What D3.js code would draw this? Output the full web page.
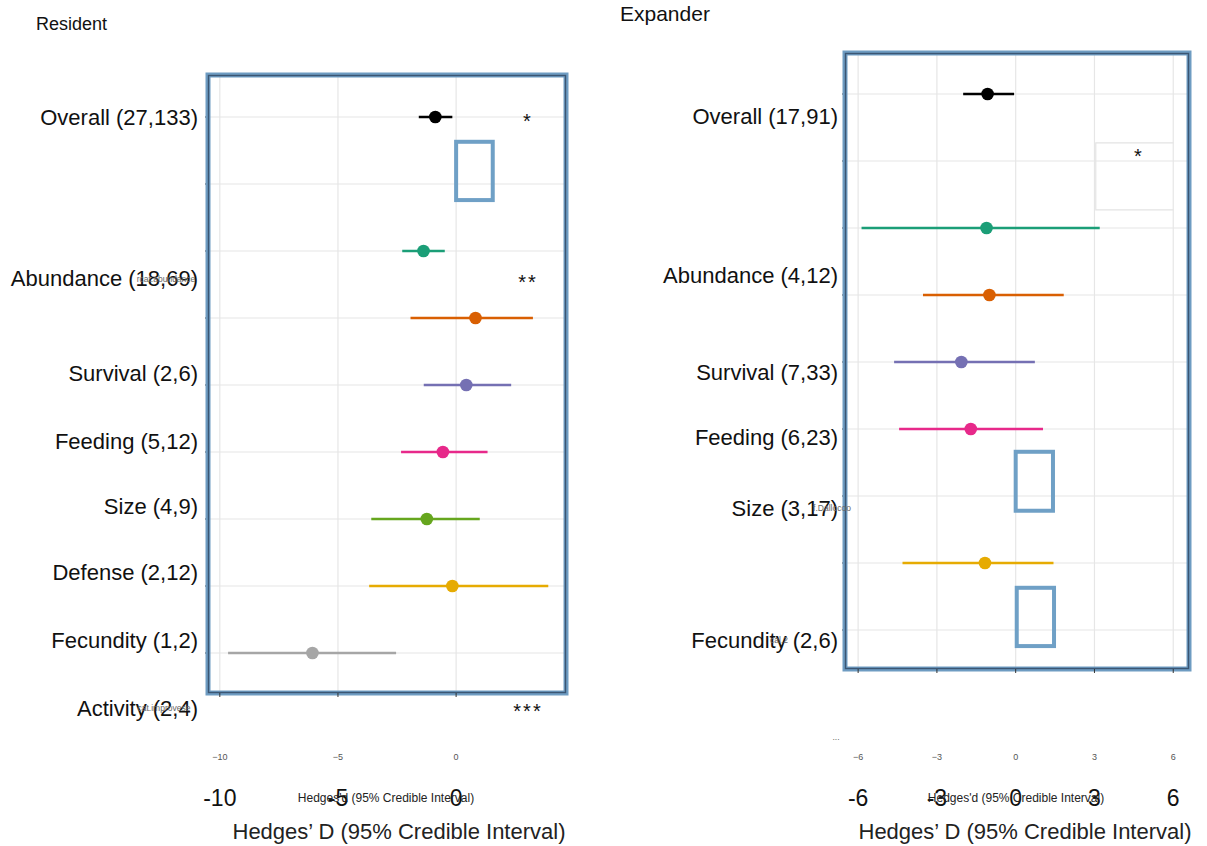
<!DOCTYPE html>
<html>
<head>
<meta charset="utf-8">
<script src="https://cdn.jsdelivr.net/npm/d3@7/dist/d3.min.js"></script>
<style>
  body { margin: 0; background: #fff; }
  svg { display: block; font-family: "Liberation Sans", Arial, sans-serif; }
</style>
</head>
<body>
<svg id="chart" width="1207" height="846"></svg>
<script>
// ---- Resident panel data (effect sizes, 95% CrI) ----
const residentRows   = [0, 2, 3, 4, 5, 6, 7, 8];
const residentMean   = [-0.88, -1.38, 0.82, 0.43, -0.56, -1.24, -0.16, -6.08];
const residentLow    = [-1.58, -2.28, -1.93, -1.37, -2.33, -3.59, -3.68, -9.65];
const residentHigh   = [-0.16, -0.48, 3.25, 2.33, 1.33, 1.00, 3.90, -2.54];
const residentColors = ["#000000", "#1b9e77", "#d95f02", "#7570b3", "#e7298a", "#66a61e", "#e6ab02", "#a6a6a6"];
const residentLabels = ["Overall (27,133)", "Abundance (18,69)", "Survival (2,6)", "Feeding (5,12)",
                        "Size (4,9)", "Defense (2,12)", "Fecundity (1,2)", "Activity (2,4)"];
const residentLabelRows = [0, 2.4, 3.82, 4.84, 5.81, 6.79, 7.81, 8.82];
const residentTicks  = [-10, -5, 0];
const residentStars  = ["*", "**", "***"];
const residentStarRows = [0.02, 2.42, 8.82];

// ---- Expander panel data ----
const expanderRows   = [0, 2, 3, 4, 5, 7];
const expanderMean   = [-1.07, -1.11, -1.00, -2.07, -1.71, -1.17];
const expanderLow    = [-2.00, -5.87, -3.53, -4.63, -4.44, -4.31];
const expanderHigh   = [-0.06, 3.20, 1.83, 0.73, 1.04, 1.44];
const expanderColors = ["#000000", "#1b9e77", "#d95f02", "#7570b3", "#e7298a", "#e6ab02"];
const expanderLabels = ["Overall (17,91)", "Abundance (4,12)", "Survival (7,33)", "Feeding (6,23)",
                        "Size (3,17)", "Fecundity (2,6)"];
const expanderLabelRows = [0.33, 2.7, 4.15, 5.13, 6.18, 8.15];
const expanderTicks  = [-6, -3, 0, 3, 6];
const expanderStars  = ["*"];
const expanderStarRows = [0.88];

const rowCount = 9;
const svg = d3.select("#chart");

function drawPanel(cfg) {
  const x = d3.scaleLinear().domain(cfg.xDomain).range([cfg.left, cfg.right]);
  const y = d3.scaleLinear().domain([0, rowCount - 1]).range(cfg.yRange);
  const g = svg.append("g");

  // grid
  g.selectAll(".vgrid").data(cfg.ticks).join("line")
    .attr("x1", d => x(d)).attr("x2", d => x(d))
    .attr("y1", cfg.top).attr("y2", cfg.bottom)
    .attr("stroke", "#e6e6e6").attr("stroke-width", 1.2);
  g.selectAll(".hgrid").data(d3.range(rowCount)).join("line")
    .attr("x1", cfg.left).attr("x2", cfg.right)
    .attr("y1", d => y(d)).attr("y2", d => y(d))
    .attr("stroke", "#e6e6e6").attr("stroke-width", 1.2);

  // small row ticks on the left edge
  g.selectAll(".rtick").data(d3.range(rowCount)).join("line")
    .attr("x1", cfg.left - 3).attr("x2", cfg.left)
    .attr("y1", d => y(d)).attr("y2", d => y(d))
    .attr("stroke", "#333").attr("stroke-width", 1);

  // outlined boxes
  cfg.boxes.forEach(b => {
    g.append("rect")
      .attr("x", x(b.x0)).attr("y", y(b.r0))
      .attr("width", x(b.x1) - x(b.x0)).attr("height", y(b.r1) - y(b.r0))
      .attr("fill", "none").attr("stroke", "#6fa0c6").attr("stroke-width", 4);
  });

  // intervals and points
  const data = cfg.rows.map((r, i) => ({ r, m: cfg.mean[i], lo: cfg.low[i], hi: cfg.high[i], c: cfg.colors[i] }));
  g.selectAll(".ci").data(data).join("line")
    .attr("x1", d => x(d.lo)).attr("x2", d => x(d.hi))
    .attr("y1", d => y(d.r)).attr("y2", d => y(d.r))
    .attr("stroke", d => d.c).attr("stroke-width", 2.4);
  g.selectAll(".pt").data(data).join("circle")
    .attr("cx", d => x(d.m)).attr("cy", d => y(d.r)).attr("r", 6.3)
    .attr("fill", d => d.c);

  // panel frame: light blue band with dark core
  g.append("rect")
    .attr("x", cfg.left).attr("y", cfg.top)
    .attr("width", cfg.right - cfg.left).attr("height", cfg.bottom - cfg.top)
    .attr("fill", "none").attr("stroke", "#6e9cc2").attr("stroke-width", 5);
  g.append("rect")
    .attr("x", cfg.left + 0.5).attr("y", cfg.top + 0.5)
    .attr("width", cfg.right - cfg.left - 1).attr("height", cfg.bottom - cfg.top - 1)
    .attr("fill", "none").attr("stroke", "#3b5673").attr("stroke-width", 1.4);

  // bottom tick marks
  g.selectAll(".btick").data(cfg.ticks).join("line")
    .attr("x1", d => x(d)).attr("x2", d => x(d))
    .attr("y1", cfg.bottom).attr("y2", cfg.bottom + 4)
    .attr("stroke", "#333").attr("stroke-width", 1);

  // category labels
  g.selectAll(".lab").data(cfg.labels).join("text")
    .attr("x", cfg.labelX).attr("y", (d, i) => y(cfg.labelRows[i]))
    .attr("dy", "0.35em").attr("text-anchor", "end")
    .attr("font-size", 22).attr("fill", "#111").text(d => d);

  // tiny overlaid labels
  cfg.tiny.forEach(t => {
    g.append("text").attr("x", t.x).attr("y", y(t.r)).attr("dy", "0.35em")
      .attr("font-size", 8.5).attr("fill", "#666").attr("text-anchor", "middle").text(t.s);
  });

  // significance stars
  g.selectAll(".star").data(cfg.stars).join("text")
    .attr("x", cfg.starX).attr("y", (d, i) => y(cfg.starRows[i]) + 10)
    .attr("text-anchor", "middle").attr("font-size", 20).attr("fill", "#111")
    .attr("letter-spacing", 2).text(d => d);

  // small tick labels
  g.selectAll(".stl").data(cfg.ticks).join("text")
    .attr("x", d => x(d)).attr("y", 760)
    .attr("text-anchor", "middle").attr("font-size", 9).attr("fill", "#555")
    .text(d => d < 0 ? "\u2212" + Math.abs(d) : d);
  // large tick labels
  g.selectAll(".ltl").data(cfg.ticks).join("text")
    .attr("x", d => x(d)).attr("y", 806)
    .attr("text-anchor", "middle").attr("font-size", 23).attr("fill", "#111")
    .text(d => d);
  // small axis title
  g.append("text").attr("x", cfg.smallTitleX).attr("y", 802)
    .attr("text-anchor", "middle").attr("font-size", 12).attr("fill", "#222")
    .text("Hedges'd (95% Credible Interval)");
  // large axis title
  g.append("text").attr("x", cfg.bigTitleX).attr("y", 839)
    .attr("text-anchor", "middle").attr("font-size", 22).attr("fill", "#222")
    .text("Hedges\u2019 D (95% Credible Interval)");

  return { x, y, g };
}

// Resident
drawPanel({
  left: 208, right: 566, top: 75, bottom: 693, xDomain: [-10.5, 4.65], yRange: [117, 653],
  ticks: residentTicks, rows: residentRows, mean: residentMean, low: residentLow, high: residentHigh,
  colors: residentColors, labels: residentLabels, labelRows: residentLabelRows, labelX: 198,
  boxes: [{ x0: 0.0, x1: 1.55, r0: 0.37, r1: 1.24 }],
  stars: residentStars, starRows: residentStarRows, starX: 528,
  tiny: [{ x: 166, r: 2.42, s: "rcat.abundance" }, { x: 164, r: 8.82, s: "cat.improvese" }],
  smallTitleX: 386, bigTitleX: 399
});
svg.append("text").attr("x", 36).attr("y", 30).attr("font-size", 18).attr("fill", "#111").text("Resident");

// Expander
const ex = drawPanel({
  left: 845, right: 1189, top: 53, bottom: 669, xDomain: [-6.5, 6.6], yRange: [94, 630],
  ticks: expanderTicks, rows: expanderRows, mean: expanderMean, low: expanderLow, high: expanderHigh,
  colors: expanderColors, labels: expanderLabels, labelRows: expanderLabelRows, labelX: 838,
  boxes: [{ x0: 0.0, x1: 1.42, r0: 5.34, r1: 6.22 }, { x0: 0.04, x1: 1.46, r0: 7.37, r1: 8.24 }],
  stars: expanderStars, starRows: expanderStarRows, starX: 1139,
  tiny: [{ x: 832, r: 6.18, s: "f.Dallocoo" }, { x: 779, r: 8.15, s: "cal.2" }, { x: 836, r: 9.6, s: "..." }],
  smallTitleX: 1016, bigTitleX: 1025
});
// light frame around the overall star
ex.g.append("path")
  .attr("d", `M${ex.x(6.0)},${ex.y(0.73)}H${ex.x(3.05)}V${ex.y(1.73)}H${ex.x(6.0)}`)
  .attr("fill", "none").attr("stroke", "#e4e4e4").attr("stroke-width", 1.2);
svg.append("text").attr("x", 620).attr("y", 21).attr("font-size", 21).attr("fill", "#111").text("Expander");
</script>
</body>
</html>
